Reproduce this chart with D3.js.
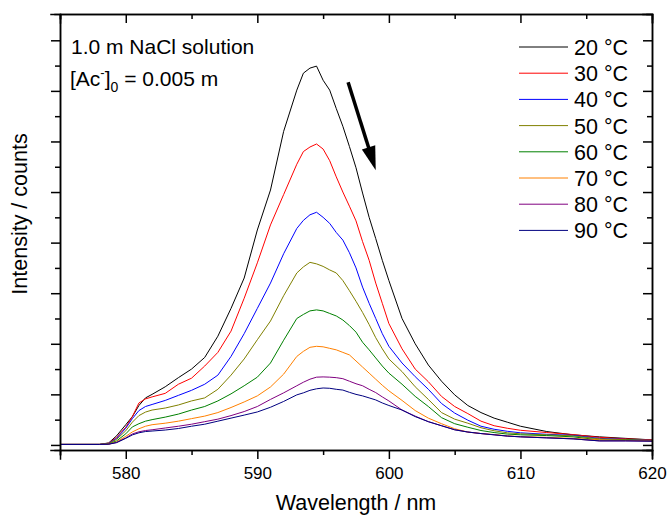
<!DOCTYPE html>
<meta charset="utf-8">
<head>
    <script type="text/javascript" src="https://cdn.jsdelivr.net/npm/d3@7/dist/d3.min.js"></script>
    <style>
        body { margin: 0; background: #fff; }
        text { font-family: "Liberation Sans", Arial, sans-serif; fill: #000; }
        .axis path, .axis line { stroke: #000; stroke-width: 1.5; }
        .axis text { font-size: 17px; font-family: "Liberation Sans", Arial, sans-serif; }
        .spectrum { fill: none; stroke-width: 1; stroke-linejoin: round; }
    </style>
    <title>Emission spectra vs temperature</title>
</head>
<body>
<div id="chart"></div>
<script>
    var w = 671;
    var h = 518;
    var margin = {top: 14, right: 19, bottom: 68, left: 60};

    // wavelength grid (nm) the curves were read at
    var wavelengths = [575, 578, 578.7, 579.3, 580, 580.5, 581, 581.5, 582, 583, 584, 585, 586, 587, 588, 589, 590, 591, 592, 593,
        593.5, 594, 594.5, 595, 595.5, 596, 596.5, 597, 597.5, 598, 598.5, 599, 599.5, 600, 601, 602, 603, 604, 605, 606,
        607, 608, 609, 610, 612, 614, 616, 618, 620];

    // intensity (arbitrary counts) per temperature
    var t20 = [10, 10, 40, 180, 400, 560, 780, 930, 1000, 1150, 1330, 1500, 1730, 2150, 2700, 3300, 4250, 5040, 6200, 7015,
        7350, 7450, 7490, 7210, 7015, 6650, 6300, 5900, 5480, 4980, 4500, 4080, 3650, 3250, 2500, 2000, 1580, 1260, 990, 780,
        640, 530, 450, 370, 265, 200, 160, 130, 100];
    var t30 = [10, 10, 35, 150, 350, 560, 830, 910, 950, 1020, 1200, 1320, 1560, 1830, 2250, 2900, 3600, 4350, 4950, 5550,
        5800, 5890, 5950, 5850, 5620, 5300, 5000, 4720, 4430, 4020, 3650, 3200, 2800, 2400, 1900, 1500, 1250, 960, 760, 620,
        470, 380, 330, 290, 245, 205, 150, 120, 100];
    var t40 = [10, 10, 30, 130, 330, 520, 680, 760, 800, 880, 980, 1080, 1200, 1380, 1750, 2200, 2700, 3200, 3780, 4280,
        4440, 4550, 4600, 4500, 4380, 4200, 4050, 3800, 3500, 3120, 2800, 2500, 2200, 1950, 1620, 1350, 1100, 820, 630, 490,
        370, 310, 270, 240, 210, 190, 130, 110, 90];
    var t50 = [10, 10, 25, 110, 280, 450, 580, 650, 690, 730, 790, 870, 930, 1100, 1380, 1700, 2080, 2450, 2950, 3400,
        3520, 3610, 3580, 3530, 3460, 3400, 3250, 3050, 2840, 2620, 2380, 2120, 1900, 1700, 1450, 1150, 900, 640, 510, 430,
        340, 280, 240, 220, 200, 180, 120, 105, 90];
    var t60 = [10, 10, 20, 80, 220, 356, 420, 470, 500, 550, 610, 690, 760, 870, 1010, 1170, 1340, 1620, 2070, 2500,
        2580, 2650, 2670, 2650, 2600, 2550, 2470, 2360, 2230, 2030, 1880, 1720, 1560, 1420, 1200, 960, 760, 540, 420, 350,
        285, 245, 215, 200, 185, 160, 100, 95, 85];
    var t70 = [10, 10, 15, 60, 170, 257, 320, 370, 400, 430, 470, 520, 570, 640, 740, 850, 970, 1146, 1400, 1750,
        1850, 1930, 1950, 1940, 1910, 1880, 1830, 1780, 1660, 1540, 1420, 1300, 1180, 1070, 880, 680, 530, 420, 320, 255,
        225, 205, 180, 165, 150, 130, 100, 90, 80];
    var t80 = [10, 10, 15, 50, 140, 217, 260, 285, 300, 335, 370, 410, 460, 510, 580, 660, 760, 900, 1030, 1170,
        1240, 1300, 1340, 1345, 1340, 1330, 1310, 1260, 1210, 1170, 1100, 1035, 950, 870, 690, 570, 460, 380, 300, 255,
        225, 200, 175, 160, 140, 120, 80, 80, 75];
    var t90 = [10, 10, 15, 45, 130, 198, 240, 265, 275, 295, 325, 370, 410, 470, 530, 590, 652, 745, 860, 990,
        1030, 1080, 1110, 1126, 1120, 1100, 1085, 1040, 1000, 970, 930, 890, 830, 780, 690, 560, 460, 380, 300, 255,
        225, 200, 175, 160, 140, 120, 80, 80, 75];

    var temps = ["20 °C", "30 °C", "40 °C", "50 °C", "60 °C", "70 °C", "80 °C", "90 °C"];
    var COLORS = ["#000000", "#ff0000", "#0000ff", "#808000", "#008000", "#ff8000", "#800080", "#000080"];
    var series = [t20, t30, t40, t50, t60, t70, t80, t90];

    var xMajor = [580, 590, 600, 610, 620];
    var xMinor = [575, 585, 595, 605, 615];
    var yMajor = [0, 1000, 2000, 3000, 4000, 5000, 6000, 7000, 8000];
    var yMinor = [500, 1500, 2500, 3500, 4500, 5500, 6500, 7500];

    // arrow: start and tip in data units
    var arrowStart = [596.9, 7170];
    var arrowTip = [599.0, 5430];

    var svg = d3.select("div#chart")
                .append("svg")
                .attr("width", w)
                .attr("height", h);

    var x = d3.scaleLinear().domain([575, 620]).range([margin.left, w - margin.right]);
    var y = d3.scaleLinear().domain([-100, 8520]).range([h - margin.bottom, margin.top]);

    // spectra
    var line = d3.line()
        .x(d => x(d[0]))
        .y(d => y(d[1]));

    svg.append("g")
        .selectAll("path")
        .data(series)
        .enter()
        .append("path")
        .attr("class", "spectrum")
        .attr("stroke", (d, i) => COLORS[i])
        .attr("d", d => line(wavelengths.map((wl, j) => [wl, d[j]])));

    // axes - bottom and left outward, top and right inward
    var bottom = h - margin.bottom;
    svg.append("g").attr("class", "axis").attr("transform", "translate(0," + bottom + ")")
        .call(d3.axisBottom(x).tickValues(xMajor).tickSize(9).tickPadding(8).tickFormat(d3.format("d")));
    svg.append("g").attr("class", "axis").attr("transform", "translate(0," + bottom + ")")
        .call(d3.axisBottom(x).tickValues(xMinor).tickSize(5).tickFormat(""));
    svg.append("g").attr("class", "axis").attr("transform", "translate(0," + margin.top + ")")
        .call(d3.axisTop(x).tickValues(xMajor).tickSize(-9).tickFormat(""));
    svg.append("g").attr("class", "axis").attr("transform", "translate(0," + margin.top + ")")
        .call(d3.axisTop(x).tickValues(xMinor).tickSize(-5).tickFormat(""));

    svg.append("g").attr("class", "axis").attr("transform", "translate(" + margin.left + ",0)")
        .call(d3.axisLeft(y).tickValues(yMajor).tickSize(9).tickFormat(""));
    svg.append("g").attr("class", "axis").attr("transform", "translate(" + margin.left + ",0)")
        .call(d3.axisLeft(y).tickValues(yMinor).tickSize(5).tickFormat(""));
    svg.append("g").attr("class", "axis").attr("transform", "translate(" + (w - margin.right) + ",0)")
        .call(d3.axisRight(y).tickValues(yMajor).tickSize(-9).tickFormat(""));
    svg.append("g").attr("class", "axis").attr("transform", "translate(" + (w - margin.right) + ",0)")
        .call(d3.axisRight(y).tickValues(yMinor).tickSize(-5).tickFormat(""));
    svg.selectAll(".axis path.domain").attr("stroke-linecap", "square");

    // axis titles
    svg.append("text")
        .attr("x", (margin.left + w - margin.right) / 2)
        .attr("y", 510)
        .attr("text-anchor", "middle")
        .style("font-size", "21.5px")
        .text("Wavelength / nm");

    svg.append("text")
        .attr("transform", "translate(27," + 214 + ") rotate(-90)")
        .attr("text-anchor", "middle")
        .style("font-size", "21.5px")
        .text("Intensity / counts");

    // annotation
    svg.append("text")
        .attr("x", 71).attr("y", 54)
        .style("font-size", "21px")
        .text("1.0 m NaCl solution");

    var conc = svg.append("text")
        .attr("x", 70).attr("y", 86)
        .style("font-size", "21px");
    conc.append("tspan").text("[Ac");
    conc.append("tspan").attr("dy", -9).style("font-size", "13px").text("-");
    conc.append("tspan").attr("dy", 9).text("]");
    conc.append("tspan").attr("dy", 6).style("font-size", "14px").text("0");
    conc.append("tspan").attr("dy", -6).text(" = 0.005 m");

    // legend
    var legend = svg.append("g").attr("id", "legend");
    var rows = legend.selectAll("g")
        .data(temps)
        .enter()
        .append("g")
        .attr("transform", (d, i) => "translate(519," + (47 + i * 26.2) + ")");
    rows.append("line")
        .attr("x1", 0).attr("x2", 49)
        .attr("stroke", (d, i) => COLORS[i])
        .attr("stroke-width", 1);
    rows.append("text")
        .attr("x", 55).attr("y", 8)
        .style("font-size", "21.5px")
        .text(d => d);

    // arrow pointing down the temperature series
    var x0 = x(arrowStart[0]), y0 = y(arrowStart[1]);
    var x1 = x(arrowTip[0]), y1 = y(arrowTip[1]);
    var len = Math.hypot(x1 - x0, y1 - y0);
    var ux = (x1 - x0) / len, uy = (y1 - y0) / len;
    var headLen = 24, headHalf = 7;
    var bx = x1 - ux * headLen, by = y1 - uy * headLen;
    svg.append("line")
        .attr("x1", x0).attr("y1", y0)
        .attr("x2", bx + ux * 2).attr("y2", by + uy * 2)
        .attr("stroke", "#000").attr("stroke-width", 3.5);
    svg.append("path")
        .attr("d", "M" + x1 + "," + y1 +
            "L" + (bx - uy * headHalf) + "," + (by + ux * headHalf) +
            "L" + (bx + uy * headHalf) + "," + (by - ux * headHalf) + "Z")
        .attr("fill", "#000");
</script>
</body>
